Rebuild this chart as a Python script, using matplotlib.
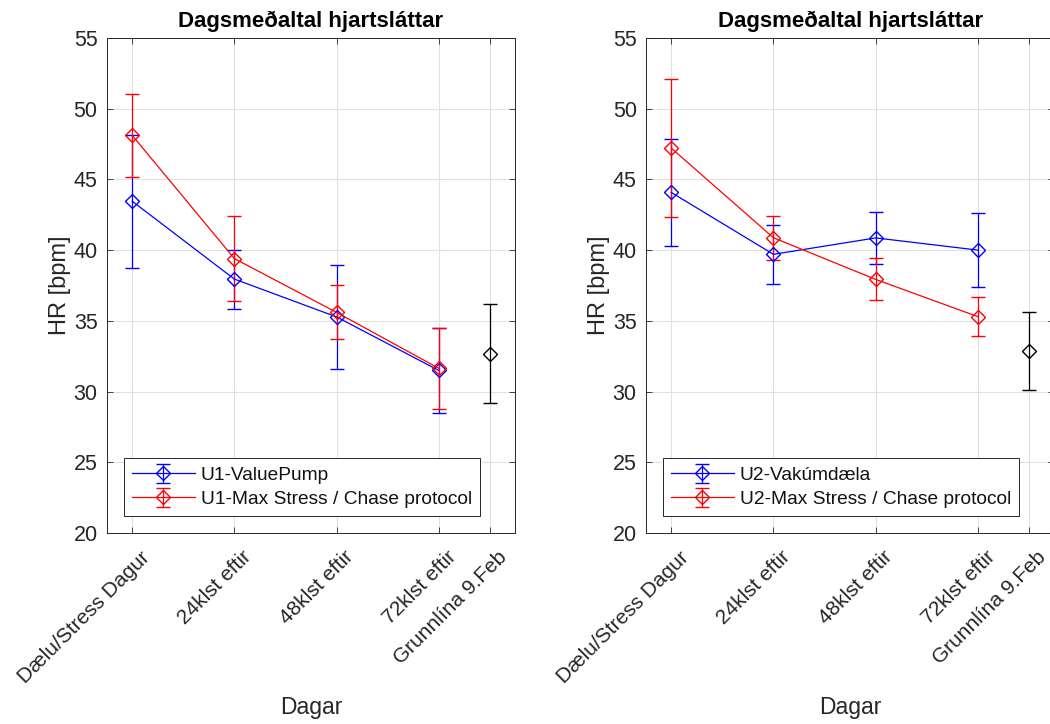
import matplotlib
matplotlib.use('Agg')
import matplotlib.pyplot as plt
from matplotlib.transforms import ScaledTranslation

plt.rcParams['font.family'] = ['Liberation Sans', 'DejaVu Sans']

categories = ['Dælu/Stress Dagur', '24klst eftir', '48klst eftir', '72klst eftir', 'Grunnlína 9.Feb']
tick_positions = [1, 2, 3, 4, 4.5]
x_days = [1, 2, 3, 4]
x_base = [4.5]

# Left panel (U1)
u1_pump_mean = [43.45, 37.95, 35.28, 31.5]
u1_pump_err = [4.7, 2.08, 3.67, 3.0]
u1_stress_mean = [48.1, 39.4, 35.6, 31.65]
u1_stress_err = [2.95, 3.0, 1.9, 2.85]
u1_base_mean = [32.67]
u1_base_err = [3.5]

# Right panel (U2)
u2_pump_mean = [44.07, 39.7, 40.86, 40.0]
u2_pump_err = [3.77, 2.1, 1.86, 2.6]
u2_stress_mean = [47.2, 40.87, 37.93, 35.3]
u2_stress_err = [4.87, 1.55, 1.48, 1.4]
u2_base_mean = [32.9]
u2_base_err = [2.75]

labels_left = ['U1-ValuePump', 'U1-Max Stress / Chase protocol']
labels_right = ['U2-Vakúmdæla', 'U2-Max Stress / Chase protocol']
title = 'Dagsmeðaltal hjartsláttar'

fig = plt.figure(figsize=(10.5, 7.24), dpi=100)
ax1 = fig.add_axes([0.1016, 0.2635, 0.3892, 0.6844])
ax2 = fig.add_axes([0.6150, 0.2635, 0.3892, 0.6844])

AX_C = '#262626'
eb_kw = dict(marker='D', markersize=6.8, markerfacecolor='none', markeredgewidth=1.0,
             linewidth=0.9, elinewidth=0.9, capsize=4.7, capthick=1.0)

def draw(ax, pm, pe, sm, se, bm, be, labels):
    h1 = ax.errorbar(x_days, pm, yerr=pe, color='#0000ff', label=labels[0], **eb_kw)
    h2 = ax.errorbar(x_days, sm, yerr=se, color='#ff0000', label=labels[1], **eb_kw)
    ax.errorbar(x_base, bm, yerr=be, color='black', **eb_kw)
    ax.set_xlim(0.75, 4.75)
    ax.set_ylim(20, 55)
    ax.set_yticks(range(20, 56, 5))
    ax.set_xticks(tick_positions)
    ax.set_xticklabels(categories, rotation=45, ha='right', rotation_mode='anchor')
    ax.tick_params(axis='both', direction='in', top=True, right=True, length=4,
                   width=0.6, color=AX_C, labelcolor=AX_C)
    ax.tick_params(axis='x', pad=6, labelsize=15)
    ax.tick_params(axis='y', pad=6.5, labelsize=15.5)
    off = ScaledTranslation(0.075, -0.06, fig.dpi_scale_trans)
    for lab in ax.get_xticklabels():
        lab.set_transform(lab.get_transform() + off)
    for s in ax.spines.values():
        s.set_color(AX_C)
        s.set_linewidth(0.7)
    ax.grid(True, color='#e1e1e1', linewidth=0.8)
    ax.set_axisbelow(True)
    ax.set_title(title, fontsize=16, fontweight='bold', pad=8)
    ax.set_ylabel('HR [bpm]', fontsize=17, color=AX_C, labelpad=2)
    ax.set_xlabel('Dagar', fontsize=16.5, color=AX_C)
    ax.xaxis.set_label_coords(0.5, -0.329)
    leg = ax.legend(handles=[h1, h2], loc='lower left', bbox_to_anchor=(0.0416, 0.0343),
                    borderaxespad=0, fancybox=False, framealpha=1, edgecolor=AX_C,
                    fontsize=13.8, handlelength=3.3, handletextpad=0.3,
                    borderpad=0.42, labelspacing=0.36)
    leg.get_frame().set_linewidth(0.7)
    for t in leg.get_texts():
        t.set_color('#111111')

draw(ax1, u1_pump_mean, u1_pump_err, u1_stress_mean, u1_stress_err, u1_base_mean, u1_base_err, labels_left)
draw(ax2, u2_pump_mean, u2_pump_err, u2_stress_mean, u2_stress_err, u2_base_mean, u2_base_err, labels_right)

fig.savefig('out.png', dpi=100)
